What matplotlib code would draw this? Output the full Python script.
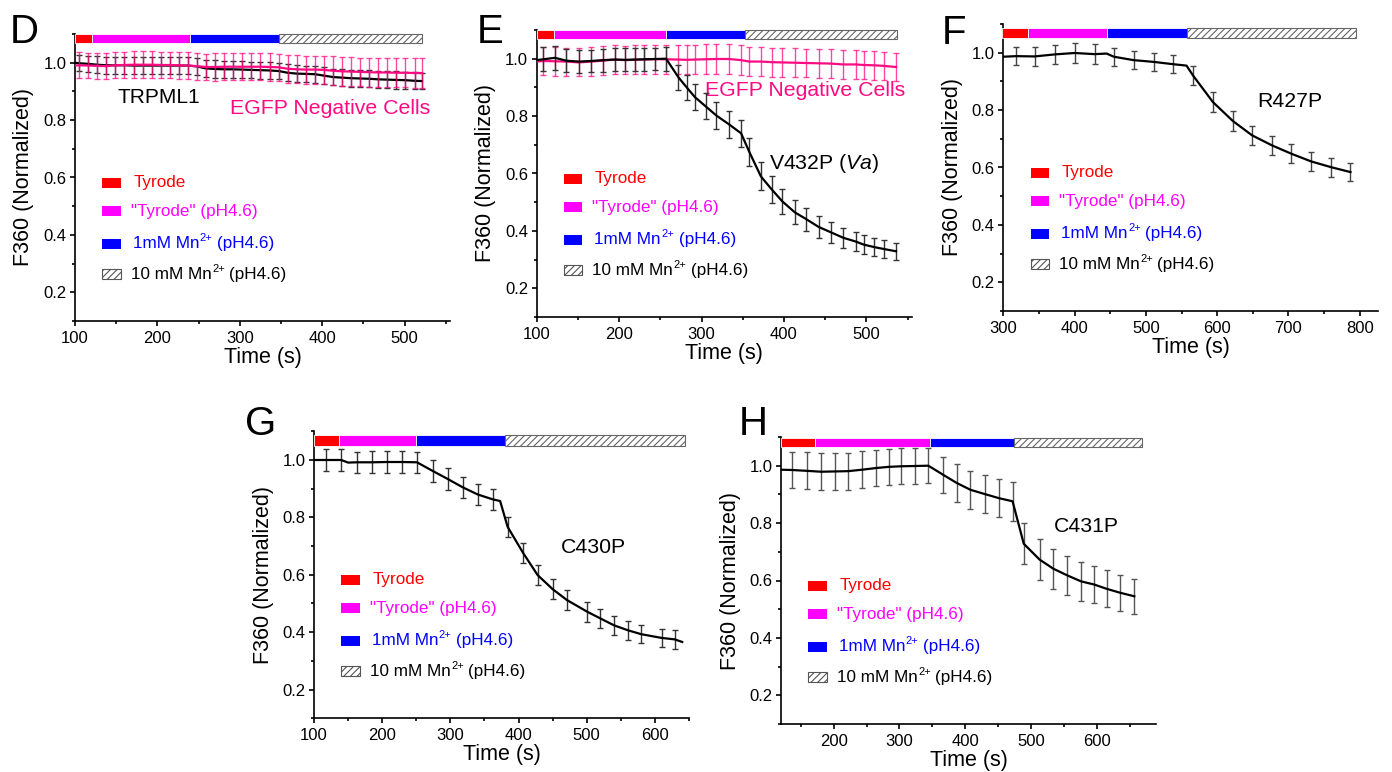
import matplotlib
matplotlib.use("Agg")
import matplotlib.pyplot as plt
import numpy as np
from matplotlib.patches import Rectangle
from matplotlib.ticker import MultipleLocator

nan = np.nan

# ---- data ----
# D: TRPML1 (black) and EGFP negative cells (pink)
tD = [100, 105, 116, 127, 138, 149, 160, 171, 182, 193, 204, 215, 226, 237, 248, 259, 270, 281, 292, 303,
      314, 325, 336, 347, 358, 369, 380, 391, 402, 413, 424, 435, 446, 457, 468, 479, 490, 501, 512, 521]
yD_ml1 = [1.0, 0.998, 0.996, 0.993, 0.991, 0.991, 0.991, 0.99, 0.99, 0.99, 0.99, 0.99, 0.99, 0.99, 0.987, 0.98,
          0.978, 0.977, 0.977, 0.976, 0.975, 0.974, 0.973, 0.971, 0.965, 0.962, 0.961, 0.96, 0.955, 0.95,
          0.948, 0.946, 0.945, 0.944, 0.942, 0.941, 0.94, 0.939, 0.937, 0.936]
eD_ml1 = [nan, 0.028, 0.028, 0.029, 0.03, 0.03, 0.029, 0.03, 0.03, 0.03, 0.029, 0.029, 0.03, 0.03, 0.029, 0.03,
          0.03, 0.029, 0.03, 0.03, 0.029, 0.03, 0.03, 0.029, 0.03, 0.03, 0.029, 0.03, 0.03, 0.029,
          0.03, 0.029, 0.03, 0.029, 0.03, 0.029, 0.03, 0.029, 0.03, 0.029]
yD_neg = [0.99, 0.991, 0.99, 0.989, 0.988, 0.991, 0.992, 0.993, 0.993, 0.993, 0.992, 0.992, 0.991, 0.99, 0.988,
          0.985, 0.985, 0.986, 0.986, 0.986, 0.986, 0.986, 0.985, 0.984, 0.979, 0.977, 0.976, 0.976, 0.975,
          0.972, 0.97, 0.969, 0.968, 0.967, 0.966, 0.966, 0.965, 0.965, 0.964, 0.964]
eD_neg = [nan, 0.045, 0.045, 0.046, 0.046, 0.046, 0.047, 0.047, 0.047, 0.047, 0.047, 0.047, 0.047, 0.047, 0.047,
          0.047, 0.048, 0.048, 0.048, 0.048, 0.048, 0.048, 0.048, 0.048, 0.049, 0.049, 0.049, 0.049, 0.049,
          0.05, 0.05, 0.05, 0.05, 0.05, 0.05, 0.051, 0.051, 0.051, 0.051, 0.052]

# E: V432P (black) and EGFP negative cells (pink)
tE = [100, 108, 122, 136, 151, 166, 180, 195, 207, 219, 230, 244, 257, 272, 282, 292, 305, 318, 333, 348,
      358, 372, 385, 398, 413, 427, 442, 457, 472, 487, 497, 509, 521, 536]
yE_mut = [0.995, 0.998, 1.003, 0.993, 0.99, 0.992, 0.995, 0.997, 0.996, 0.997, 0.998, 0.999, 1.0, 0.935, 0.9,
          0.866, 0.834, 0.802, 0.772, 0.74, 0.675, 0.59, 0.545, 0.503, 0.465, 0.441, 0.414, 0.395, 0.376,
          0.363, 0.352, 0.344, 0.337, 0.329]
eE_mut = [nan, 0.042, 0.042, 0.04, 0.04, 0.04, 0.04, 0.04, 0.04, 0.04, 0.04, 0.04, 0.042, 0.044, 0.044,
          0.045, 0.045, 0.046, 0.047, 0.047, 0.05, 0.049, 0.047, 0.044, 0.042, 0.04, 0.039, 0.037, 0.035,
          0.034, 0.033, 0.032, 0.031, 0.03]
yE_neg = [0.99, 0.992, 0.991, 0.99, 0.987, 0.99, 0.993, 0.997, 0.995, 0.996, 0.997, 0.998, 0.998, 0.997, 0.996,
          0.997, 0.998, 0.999, 0.999, 0.995, 0.99, 0.99, 0.988, 0.987, 0.986, 0.985, 0.984, 0.983, 0.98,
          0.98, 0.978, 0.977, 0.975, 0.971]
eE_neg = [nan, 0.05, 0.05, 0.049, 0.049, 0.05, 0.05, 0.051, 0.05, 0.05, 0.05, 0.051, 0.051, 0.051, 0.051,
          0.052, 0.052, 0.052, 0.052, 0.052, 0.051, 0.051, 0.051, 0.051, 0.05, 0.05, 0.05, 0.05, 0.05,
          0.05, 0.05, 0.05, 0.05, 0.05]

# F: R427P
tF = [300, 318, 344, 372, 400, 428, 445, 455, 483, 511, 538, 557, 566, 594, 622, 649, 677, 704, 732, 760, 787]
yF = [0.986, 0.988, 0.987, 0.994, 0.999, 0.995, 0.997, 0.986, 0.974, 0.968, 0.96, 0.955, 0.921, 0.828, 0.762,
      0.712, 0.677, 0.648, 0.621, 0.601, 0.584]
eF = [nan, 0.032, 0.033, 0.033, 0.034, 0.034, nan, 0.032, 0.032, 0.032, 0.032, nan, 0.032, 0.034, 0.034,
      0.034, 0.033, 0.033, 0.033, 0.033, 0.032]

# G: C430P
tG = [100, 118, 140, 150, 163, 185, 207, 229, 251, 274, 296, 318, 340, 362, 373, 384, 407, 428, 450, 471,
      501, 520, 540, 560, 580, 610, 629, 640]
yG = [1.0, 1.0, 1.0, 0.991, 0.992, 0.992, 0.993, 0.993, 0.992, 0.962, 0.934, 0.905, 0.88, 0.863, 0.857,
      0.767, 0.675, 0.599, 0.55, 0.512, 0.471, 0.448, 0.424, 0.407, 0.393, 0.38, 0.375, 0.366]
eG = [nan, 0.038, 0.038, nan, 0.037, 0.038, 0.038, 0.038, 0.037, 0.037, 0.037, 0.036, 0.036, 0.036, nan,
      0.035, 0.035, 0.035, 0.034, 0.034, 0.034, 0.033, 0.033, 0.033, 0.032, 0.032, 0.032, nan]

# H: C431P
tH = [120, 137, 160, 181, 202, 222, 243, 265, 284, 303, 324, 344, 366, 387, 408, 430, 451, 472, 489, 513,
      534, 555, 576, 596, 615, 636, 657]
yH = [0.986, 0.985, 0.982, 0.979, 0.98, 0.981, 0.986, 0.992, 0.996, 0.998, 0.999, 1.0, 0.969, 0.94, 0.916,
      0.901, 0.887, 0.876, 0.728, 0.673, 0.641, 0.618, 0.597, 0.586, 0.571, 0.557, 0.545]
eH = [nan, 0.064, 0.064, 0.064, 0.063, 0.064, 0.064, 0.063, 0.063, 0.062, 0.062, 0.062, 0.063, 0.065, 0.066,
      0.066, 0.067, 0.068, 0.072, 0.071, 0.07, 0.068, 0.067, 0.066, 0.064, 0.062, 0.061]

# solution-change times (edges of the coloured bar on top of each panel)
bar_D = [100, 121, 240, 347, 521]
bar_E = [100, 121, 257, 353, 537]
bar_F = [298, 335, 446, 557, 795]
bar_G = [100, 137, 249, 380, 644]
bar_H = [120, 171, 346, 474, 668]

# legend labels: (before superscript, superscript, after superscript)
solutions = [("Tyrode", "", ""), ('"Tyrode" (pH4.6)', "", ""),
             ("1mM Mn", "2+", "(pH4.6)"), ("10 mM Mn", "2+", "(pH4.6)")]
sol_colors = ["#ff0000", "#ff00ff", "#0000ff", None]
text_colors = ["#ff0000", "#ff00ff", "#0000ff", "#000000"]

PINK = "#ff0a82"
W, H = 1392, 772

plt.rcParams.update({
    "font.family": "Liberation Sans",
    "mathtext.fontset": "custom",
    "mathtext.rm": "Liberation Sans",
    "mathtext.it": "Liberation Sans:italic",
    "axes.linewidth": 1.2,
    "hatch.linewidth": 0.8,
})

fig = plt.figure(figsize=(W / 100, H / 100), dpi=100)
AX_W, AX_H = 375, 287


def add_axes(left_px, bottom_px):
    return fig.add_axes([left_px / W, 1 - bottom_px / H, AX_W / W, AX_H / H])


def style_axes(ax, xlim):
    ax.set_xlim(*xlim)
    ax.set_ylim(0.1, 1.1)
    for s in ("top", "right"):
        ax.spines[s].set_visible(False)
    ax.xaxis.set_major_locator(MultipleLocator(100))
    ax.xaxis.set_minor_locator(MultipleLocator(50))
    ax.yaxis.set_major_locator(MultipleLocator(0.2))
    ax.yaxis.set_minor_locator(MultipleLocator(0.1))
    ax.tick_params(which="both", direction="out", width=1.2, labelsize=12)
    ax.tick_params(which="major", length=3.8)
    ax.tick_params(which="minor", length=2.3)
    ax.tick_params(axis="x", pad=3.2)
    ax.tick_params(axis="y", pad=2.3)
    ax.set_xlabel("Time (s)", fontsize=15.5, va="center")
    ax.xaxis.set_label_coords(0.5, -36.5 / AX_H)
    ax.set_ylabel("F360 (Normalized)", fontsize=15.5, va="center")
    ax.yaxis.set_label_coords(-51 / AX_W, 0.5)


def solution_bar(ax, edges, y0, y1):
    for i in range(4):
        x0, x1 = edges[i], edges[i + 1]
        if sol_colors[i] is None:
            r = Rectangle((x0, y0), x1 - x0, y1 - y0, facecolor="white", edgecolor="#666666",
                          hatch="/////", lw=0.8, clip_on=False, zorder=3)
        else:
            r = Rectangle((x0, y0), x1 - x0, y1 - y0, facecolor=sol_colors[i], edgecolor="white",
                          lw=0.6, clip_on=False, zorder=3)
        ax.add_patch(r)


def solution_legend(ax):
    rows = [148.5, 177, 209.5, 240]
    text_x = [58.3, 55.7, 57.7, 55.7]
    for i, (lab, sup, rest) in enumerate(solutions):
        yc = 1 - rows[i] / AX_H
        h = 10 / AX_H
        if sol_colors[i] is None:
            r = Rectangle((27.3 / AX_W, yc - h / 2), 18.3 / AX_W, h, transform=ax.transAxes,
                          facecolor="white", edgecolor="#555555", hatch="/////", lw=0.8)
        else:
            r = Rectangle((27.3 / AX_W, yc - h / 2), 18.3 / AX_W, h, transform=ax.transAxes,
                          facecolor=sol_colors[i], edgecolor="none")
        ax.add_patch(r)
        t1 = ax.text(text_x[i] / AX_W, yc - 4.6 / AX_H, lab, transform=ax.transAxes, fontsize=12.3,
                     color=text_colors[i], va="baseline", ha="left")
        if sup:
            t2 = ax.annotate(sup, xy=(1, 0), xycoords=t1, xytext=(0.4, 7.2), textcoords="offset points",
                             fontsize=8, color=text_colors[i], va="baseline", ha="left")
            ax.annotate(rest, xy=(1, 0), xycoords=(t2, t1), xytext=(3.2, 0), textcoords="offset points",
                        fontsize=12.3, color=text_colors[i], va="bottom", ha="left")


def trace(ax, t, y, e, color, ecolor, alpha=1.0, z=4):
    ax.errorbar(t, y, yerr=e, fmt="none", ecolor=ecolor, elinewidth=1.0, capsize=2.3,
                capthick=1.0, alpha=alpha, zorder=z)
    ax.plot(t, y, color=color, lw=1.6, zorder=z + 0.5)


def panel_letter(x_px, baseline_px, letter):
    fig.text(x_px / W, 1 - baseline_px / H, letter, fontsize=29, va="baseline", ha="left")


# D
axD = add_axes(75, 321)
style_axes(axD, (100, 555))
solution_bar(axD, bar_D, 1.067, 1.1)
trace(axD, tD, yD_ml1, eD_ml1, "black", "#333333")
trace(axD, tD, yD_neg, eD_neg, PINK, PINK, alpha=0.75, z=5)
axD.text(151.4, 0.861, "TRPML1", fontsize=15, va="baseline")
axD.text(288.4, 0.82, "EGFP Negative Cells", fontsize=15.3, color=PINK, va="baseline")
solution_legend(axD)
panel_letter(10, 42.7, "D")

# E
axE = add_axes(536.7, 317)
style_axes(axE, (100, 555))
solution_bar(axE, bar_E, 1.067, 1.1)
trace(axE, tE, yE_mut, eE_mut, "black", "#333333", z=5)
trace(axE, tE, yE_neg, eE_neg, PINK, PINK, alpha=0.75, z=4)
axE.text(304.5, 0.870, "EGFP Negative Cells", fontsize=15.3, color=PINK, va="baseline")
axE.text(381.4, 0.616, r"V432P ($\mathit{Va}$)", fontsize=15.3, va="baseline")
solution_legend(axE)
panel_letter(477, 43.3, "E")

# F
axF = add_axes(1003.3, 311)
style_axes(axF, (300, 826))
solution_bar(axF, bar_F, 1.05, 1.085)
trace(axF, tF, yF, eF, "black", "#444444")
axF.text(655.7, 0.81, "R427P", fontsize=15.3, va="baseline")
solution_legend(axF)
panel_letter(942, 44, "F")

# G
axG = add_axes(314, 718.3)
style_axes(axG, (100, 650))
solution_bar(axG, bar_G, 1.05, 1.087)
trace(axG, tG, yG, eG, "black", "#333333")
axG.text(461.7, 0.677, "C430P", fontsize=15.3, va="baseline")
solution_legend(axG)
panel_letter(245, 435, "G")

# H
axH = add_axes(781, 724)
style_axes(axH, (120, 690))
solution_bar(axH, bar_H, 1.064, 1.096)
trace(axH, tH, yH, eH, "black", "#555555")
axH.text(534.6, 0.768, "C431P", fontsize=15.3, va="baseline")
solution_legend(axH)
panel_letter(739, 435, "H")

fig.savefig("out.png", dpi=100, facecolor="white")
